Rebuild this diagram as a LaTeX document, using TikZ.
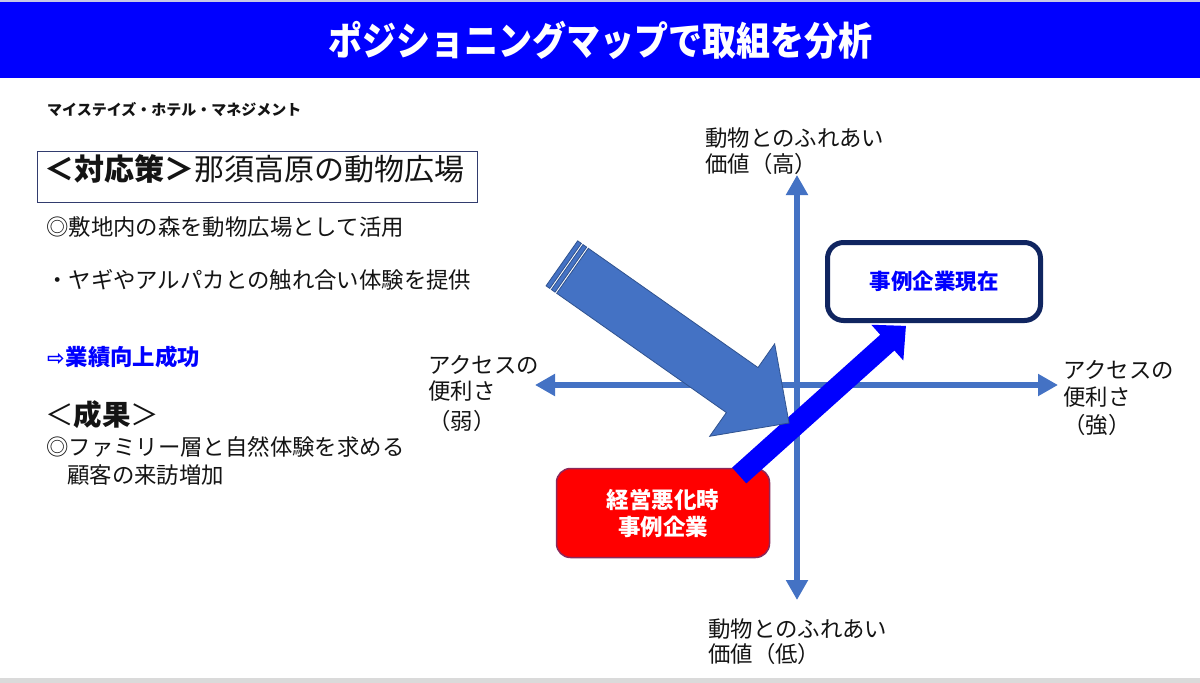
\documentclass[tikz,border=0pt]{standalone}
\usepackage{fontspec}
\setmainfont{Noto Sans CJK JP}
\newfontfamily\dejavu{DejaVu Sans}
\usetikzlibrary{arrows.meta}
\definecolor{titleblue}{RGB}{0,0,255}
\definecolor{axisblue}{RGB}{68,114,196}
\definecolor{arrowedge}{RGB}{47,82,143}
\definecolor{navy}{RGB}{16,37,96}
\definecolor{boxedge}{RGB}{50,60,110}
\definecolor{redfill}{RGB}{255,0,0}
\definecolor{rededge}{RGB}{140,40,90}
\definecolor{txt}{RGB}{20,20,20}
\definecolor{bandgray}{RGB}{218,218,218}
\definecolor{topline}{RGB}{200,200,230}
\tikzset{
  lbl/.style={anchor=west, inner sep=0pt, text=txt, font=\fontsize{22.4}{26}\selectfont},
  axis/.style={draw=axisblue, line width=5.5pt, {Triangle[length=20pt,width=21pt]}-{Triangle[length=20pt,width=21pt]}},
}
\begin{document}
\begin{tikzpicture}[x=1pt,y=-1pt]
\useasboundingbox (0,0) rectangle (1200,683);
\fill[white] (0,0) rectangle (1200,683);
\fill[topline] (0,0) rectangle (1200,2);
\fill[bandgray] (0,678) rectangle (1200,683);
% title bar
\node[fill=titleblue, anchor=north west, minimum width=1200pt, minimum height=75.5pt, inner sep=0pt, text=white,
  font=\fontsize{34}{40}\bfseries\selectfont] (title) at (0,2) {\scalebox{1.0}[1.15]{ポジショニングマップで取組を分析}};
% left texts
\node[lbl, font=\fontsize{15}{18}\bfseries\selectfont] (company) at (47,110) {マイステイズ・ホテル・マネジメント};
\node[draw=boxedge, line width=1.2pt, anchor=north west, minimum width=440pt, minimum height=51pt, inner sep=0pt] (taibox) at (37,151) {};
\node[lbl, font=\fontsize{30}{34}\selectfont] (taitxt) at (44,169) {\textbf{＜対応策＞}那須高原の動物広場};
\node[lbl] (l1) at (46,227) {◎敷地内の森を動物広場として活用};
\node[lbl] (l2) at (46,280) {・ヤギやアルパカとの触れ合い体験を提供};
\node[lbl, text=titleblue, font=\fontsize{22.4}{26}\bfseries\selectfont] (l3) at (47,357) {{\dejavu\fontsize{21}{24}\selectfont ⇨}\hspace{1pt}業績向上成功};
\node[lbl, font=\fontsize{28.5}{32}\selectfont] (l4) at (45,415) {＜\textbf{成果}＞};
\node[lbl] (l5) at (46,447) {◎ファミリー層と自然体験を求める};
\node[lbl] (l6) at (67,475) {顧客の来訪増加};
% axes
\coordinate (xl) at (535,385);
\coordinate (xr) at (1058,385);
\coordinate (yt) at (797,175);
\coordinate (yb) at (797,600);
\draw[axis] (xl) -- (xr);
\draw[axis] (yb) -- (yt);
% axis labels
\node[lbl] (t1) at (705,138) {動物とのふれあい};
\node[lbl] (t2) at (705,164) {価値（高）};
\node[lbl] (b1) at (708,629) {動物とのふれあい};
\node[lbl] (b2) at (708,654) {価値（低）};
\node[lbl] (w1) at (428,365) {アクセスの};
\node[lbl] (w2) at (428,391) {便利さ};
\node[lbl] (w3) at (428,421) {（弱）};
\node[lbl] (e1) at (1063,370) {アクセスの};
\node[lbl] (e2) at (1063,397) {便利さ};
\node[lbl] (e3) at (1063,425) {（強）};
% boxes
\node[draw=navy, line width=5pt, rounded corners=16pt, fill=white, minimum width=213pt, minimum height=78pt, inner sep=0pt,
  text=titleblue, font=\fontsize{21.5}{25}\bfseries\selectfont] (now) at (934,281.5) {事例企業現在};
\node[draw=rededge, fill=redfill, line width=1.5pt, rounded corners=14pt, minimum width=213pt, minimum height=89pt, inner sep=0pt,
  text=white, align=center, font=\fontsize{22.5}{27}\bfseries\selectfont] (bad) at (663,513) {経営悪化時\\事例企業};
% blue block arrow from bad to now
\begin{scope}[shift={(739.2,475.5)}, rotate=41.9]
  \fill[titleblue] (0,-10.6) -- (199,-10.6) -- (199,-24) -- (224,0) -- (199,24) -- (199,10.6) -- (0,10.6) -- cycle;
\end{scope}
% big striped arrow
\begin{scope}[shift={(572.5,270.8)}, rotate=-35.1, draw=arrowedge, fill=axisblue, line width=0.8pt]
  \filldraw (0,-27.5) -- (207.4,-27.5) -- (207.4,-56.5) -- (264.7,0) -- (207.4,56.5) -- (207.4,27.5) -- (0,27.5) -- cycle;
  \filldraw (-6.5,-27.5) rectangle (-2,27.5);
  \filldraw (-13,-27.5) rectangle (-8.5,27.5);
\end{scope}
\end{tikzpicture}
\end{document}
